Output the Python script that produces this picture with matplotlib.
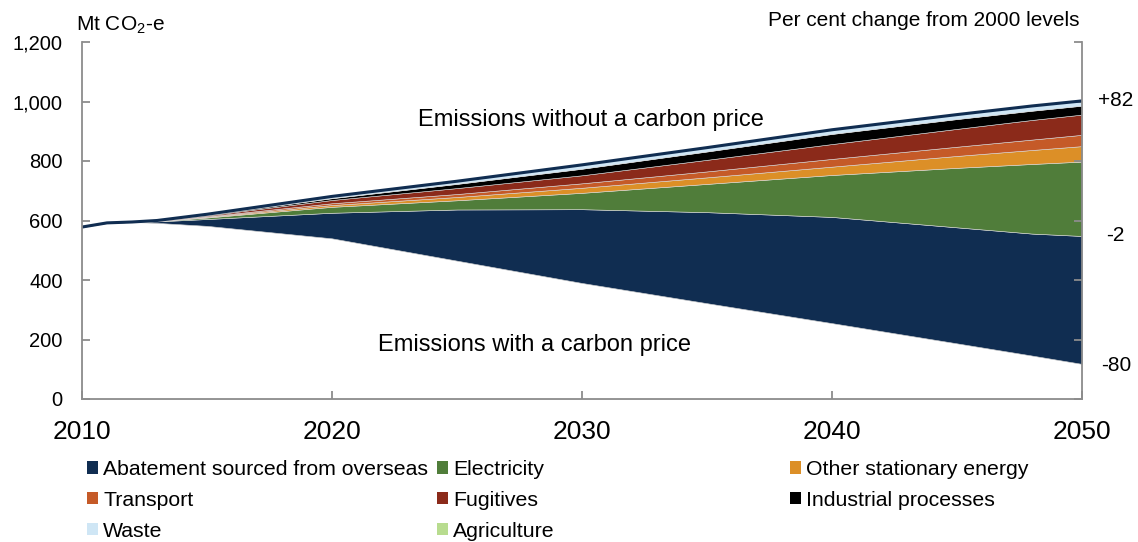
import matplotlib
matplotlib.use("Agg")
import matplotlib.pyplot as plt
from matplotlib.patches import Patch
from matplotlib.ticker import FuncFormatter

plt.rcParams["font.family"] = ["Liberation Sans", "DejaVu Sans"]
plt.rcParams["mathtext.fontset"] = "custom"
plt.rcParams["mathtext.rm"] = "Liberation Sans"
plt.rcParams["mathtext.it"] = "Liberation Sans:italic"

# ---------------------------------------------------------------------------
# Data (Mt CO2-e)
# ---------------------------------------------------------------------------
years = [2010, 2011, 2012, 2013, 2015, 2020, 2025, 2030, 2035, 2040, 2045, 2048, 2050]

with_price = [578, 592, 595, 592, 582, 540, 465, 390, 322, 255, 187, 146, 118]
overseas = [0, 0, 0, 5, 23, 86, 172, 248, 306, 357, 390, 410, 430]
electricity = [0, 0, 0, 1, 5, 20, 31, 55, 95, 141, 200, 234, 250]
other_stationary = [0, 0, 0, 0, 2, 6, 11, 17, 22, 28, 40, 47, 52]
transport = [0, 0, 0, 0, 2, 6, 10, 15, 20, 26, 31, 35, 38]
fugitives = [0, 0, 0, 1, 3, 11, 20, 27, 39, 50, 60, 66, 68]
industrial = [0, 0, 0, 0, 2, 6, 14, 22, 28, 34, 33, 31, 30]
waste = [0, 0, 0, 1, 2, 6, 9, 13, 13, 14, 15, 16, 16]
agriculture = [0, 0, 0, 0, 0, 0, 0, 0, 0, 0, 0, 0, 0]

sector_labels = ["Abatement sourced from overseas", "Electricity",
                 "Other stationary energy", "Transport", "Fugitives",
                 "Industrial processes", "Waste", "Agriculture"]

end_labels = ["+82", "-2", "-80"]
end_values = [1002, 548, 113]

# ---------------------------------------------------------------------------
# Style
# ---------------------------------------------------------------------------
colors = ["#102d51", "#507d3a", "#dc8f27", "#c55a28", "#8b2a1a",
          "#000000", "#cfe6f5", "#b8dc8f"]
grey = "#8c8c8c"

fig = plt.figure(figsize=(11.38, 5.42), dpi=100)
ax = fig.add_axes([82 / 1138, 1 - 399 / 542, 1000 / 1138, 357 / 542])

layers = [overseas, electricity, other_stationary, transport, fugitives,
          industrial, waste, agriculture]
ax.stackplot(years, with_price, *layers,
             colors=["white"] + colors,
             edgecolor="#d9d9d9", linewidth=0.4)

without_price = [sum(v) for v in zip(with_price, *layers)]
ax.plot(years, without_price, color="#102d51", lw=2.2, solid_capstyle="butt")

ax.set_xlim(2010, 2050)
ax.set_ylim(0, 1200)
ax.set_xticks([2010, 2020, 2030, 2040, 2050])
ax.set_yticks(range(0, 1201, 200))
ax.yaxis.set_major_formatter(FuncFormatter(lambda v, p: f"{int(v):,}"))

for side in ["left", "bottom", "right"]:
    ax.spines[side].set_color(grey)
    ax.spines[side].set_linewidth(1.3)
ax.spines["top"].set_visible(False)

ax.tick_params(axis="y", direction="in", length=6, width=1.3, color=grey,
               labelsize=14.5, pad=14, right=True)
ax.tick_params(axis="x", direction="in", length=6, width=1.3, color=grey,
               labelsize=19, pad=15)

# annotations
ax.text(2030.35, 938, "Emissions without a carbon price", fontsize=17,
        ha="center", va="center")
ax.text(2028.1, 181, "Emissions with a carbon price", fontsize=17,
        ha="center", va="center")

for lab, val in zip(end_labels, end_values):
    ax.text(2051.35, val, lab, fontsize=15, ha="center", va="center",
            clip_on=False)

fig.text(76 / 1138, 1 - 25 / 542, "Mt CO$_2$-e", fontsize=15,
         ha="left", va="center")
fig.text(1080 / 1138, 1 - 20 / 542, "Per cent change from 2000 levels",
         fontsize=15, ha="right", va="center")

# legend: three separate columns to match the uneven spacing
handles = [Patch(facecolor=c, edgecolor="none") for c in colors]
columns = [[0, 3, 6], [1, 4, 7], [2, 5]]
col_x = [87, 437, 790]
for idx, x0 in zip(columns, col_x):
    fig.legend([handles[i] for i in idx], [sector_labels[i] for i in idx],
               loc="upper left", bbox_to_anchor=(x0 / 1138, 1 - 460 / 542),
               frameon=False, fontsize=15.3, handlelength=0.5,
               handleheight=0.5, handletextpad=0.26, labelspacing=0.56,
               borderpad=0, borderaxespad=0)

fig.savefig("out.png", dpi=100)
